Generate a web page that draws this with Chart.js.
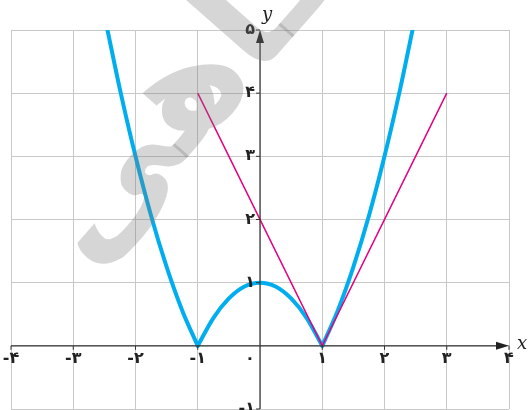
<!DOCTYPE html>
<html>
<head>
<meta charset="utf-8">
<script src="https://cdn.jsdelivr.net/npm/chart.js"></script>
<style>
  html, body { margin: 0; padding: 0; background: #fff; }
  #wrap { width: 532px; height: 410px; }
</style>
</head>
<body>
<div id="wrap"><canvas id="graph-chart" width="532" height="410"></canvas></div>
<script>
// tick values and their (persian) labels
const xTicks = [-4, -3, -2, -1, 0, 1, 2, 3, 4];
const xTickLabels = ['-۴', '-۳', '-۲', '-۱', '۰', '۱', '۲', '۳', '۴'];
const yTicks = [-1, 1, 2, 3, 4, 5];
const yTickLabels = ['-۱', '۱', '۲', '۳', '۴', '۵'];

// blue curve (three pieces, sharp corners at x = -1 and 1)
const blueLeftX = [-2.45, -2.25, -2, -1.75, -1.5, -1.25, -1];
const blueLeftY = [5, 4.06, 3, 2.06, 1.25, 0.56, 0];
const blueMidX = [-1, -0.75, -0.5, -0.25, 0, 0.25, 0.5, 0.75, 1];
const blueMidY = [0, 0.44, 0.75, 0.94, 1, 0.94, 0.75, 0.44, 0];
const blueRightX = [1, 1.25, 1.5, 1.75, 2, 2.25, 2.45];
const blueRightY = [0, 0.56, 1.25, 2.06, 3, 4.06, 5];

// pink broken line
const pinkX = [-1, 1, 3];
const pinkY = [4, 0, 4];

const blue = '#00aeef';
const pink = '#e6007e';

function pts(xs, ys) {
  return xs.map(function (x, i) { return { x: x, y: ys[i] }; });
}

function blueSet(xs, ys) {
  return {
    data: pts(xs, ys),
    borderColor: blue,
    borderWidth: 4,
    borderCapStyle: 'round',
    borderJoinStyle: 'round',
    cubicInterpolationMode: 'monotone',
    pointRadius: 0,
    showLine: true,
    order: 2
  };
}

// axes with arrows, little ticks and persian labels
const axesPlugin = {
  id: 'axes',
  afterDatasetsDraw: function (chart) {
    const c = chart.ctx;
    const xs = chart.scales.x, ys = chart.scales.y;
    const x0 = xs.getPixelForValue(0), y0 = ys.getPixelForValue(0);
    const left = xs.left, right = xs.right, top = ys.top, bottom = ys.bottom;
    c.save();
    c.strokeStyle = '#333';
    c.fillStyle = '#222';
    c.lineWidth = 1.2;
    c.beginPath();
    c.moveTo(left, y0); c.lineTo(right - 6, y0);
    c.moveTo(x0, bottom); c.lineTo(x0, top + 6);
    c.stroke();
    // arrow heads
    c.beginPath();
    c.moveTo(right, y0); c.lineTo(right - 13, y0 - 4); c.lineTo(right - 13, y0 + 4); c.closePath();
    c.fill();
    c.beginPath();
    c.moveTo(x0, top); c.lineTo(x0 - 4, top + 13); c.lineTo(x0 + 4, top + 13); c.closePath();
    c.fill();

    c.lineWidth = 1;
    c.font = 'bold 16px "DejaVu Sans"';
    c.direction = 'ltr';
    c.textBaseline = 'middle';
    c.textAlign = 'center';
    xTicks.forEach(function (v, i) {
      const px = xs.getPixelForValue(v);
      if (v !== 0) {
        c.beginPath(); c.moveTo(px, y0); c.lineTo(px, y0 + 4); c.stroke();
        c.fillText(xTickLabels[i], px, y0 + 13);
      } else {
        c.fillText(xTickLabels[i], px - 10, y0 + 13);
      }
    });
    c.textAlign = 'right';
    yTicks.forEach(function (v, i) {
      const py = ys.getPixelForValue(v);
      c.beginPath(); c.moveTo(x0 - 4, py); c.lineTo(x0, py); c.stroke();
      c.fillText(yTickLabels[i], x0 - 5, py);
    });

    c.font = 'italic 18px "DejaVu Serif"';
    c.textAlign = 'left';
    c.fillText('x', right + 8, y0 - 2);
    c.fillText('y', x0 + 2, top - 15);
    c.restore();
  },
  afterDraw: function (chart) {
    // faint watermark
    const c = chart.ctx;
    c.save();
    c.translate(190, 95);
    c.rotate(-0.85);
    c.font = 'bold 150px "DejaVu Sans"';
    c.fillStyle = 'rgba(120,120,120,0.3)';
    c.textAlign = 'center';
    c.textBaseline = 'middle';
    c.direction = 'rtl';
    c.fillText('گاهی', 0, 0);
    c.restore();
  }
};

new Chart(document.getElementById('graph-chart'), {
  type: 'scatter',
  data: {
    datasets: [
      {
        data: pts(pinkX, pinkY),
        borderColor: pink,
        borderWidth: 1.5,
        pointRadius: 0,
        showLine: true,
        tension: 0,
        order: 1
      },
      blueSet(blueLeftX, blueLeftY),
      blueSet(blueMidX, blueMidY),
      blueSet(blueRightX, blueRightY)
    ]
  },
  options: {
    responsive: false,
    animation: false,
    layout: {
      padding: { left: 11, right: 23, top: 30, bottom: 1 }
    },
    scales: {
      x: {
        type: 'linear',
        min: -4,
        max: 4,
        ticks: { stepSize: 1, display: false },
        grid: { color: '#c8c8c8', lineWidth: 1, drawTicks: false },
        border: { display: false }
      },
      y: {
        type: 'linear',
        min: -1,
        max: 5,
        ticks: { stepSize: 1, display: false },
        grid: { color: '#c8c8c8', lineWidth: 1, drawTicks: false },
        border: { display: false }
      }
    },
    plugins: {
      legend: { display: false },
      tooltip: { enabled: false }
    }
  },
  plugins: [axesPlugin]
});
</script>
</body>
</html>
